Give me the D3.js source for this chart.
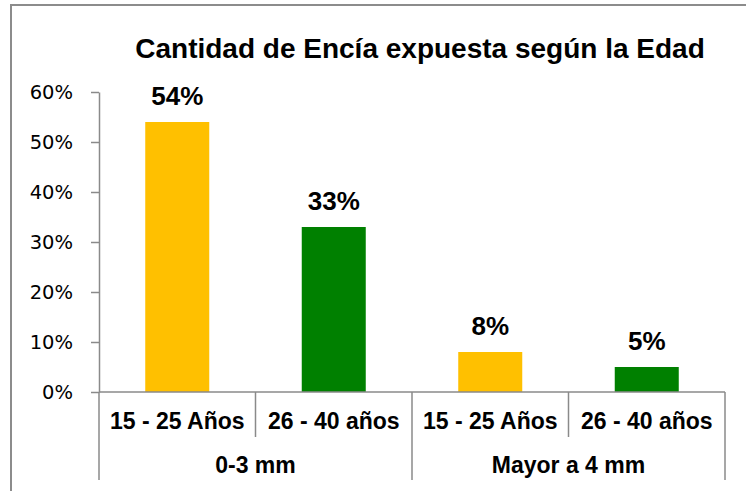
<!DOCTYPE html>
<html>
<head>
<meta charset="utf-8">
<script src="https://cdn.jsdelivr.net/npm/d3@7"></script>
<style>
  html, body { margin: 0; padding: 0; background: #fff; }
  svg { display: block; }
</style>
</head>
<body>
<svg id="chart" width="746" height="491"></svg>
<script>
// ---- data ----
const title = "Cantidad de Encía expuesta según la Edad";
const groups = ["0-3 mm", "Mayor a 4 mm"];
const ageLabels = ["15 - 25 Años", "26 - 40 años"];
const values15to25 = [0.54, 0.08];
const values26to40 = [0.33, 0.05];
const yTicks = [0, 0.1, 0.2, 0.3, 0.4, 0.5, 0.6];
const colors = ["#FFC000", "#008000"];

(function () {
// build flat rows
const rows = [];
groups.forEach((g, gi) => {
  rows.push({ key: g + "|" + ageLabels[0], group: g, age: ageLabels[0], value: values15to25[gi], color: colors[0] });
  rows.push({ key: g + "|" + ageLabels[1], group: g, age: ageLabels[1], value: values26to40[gi], color: colors[1] });
});

const svg = d3.select("#chart");
const mLeft = 99, mRight = 725, mTop = 92, mBottom = 392;
const axisColor = "#8a8a8a";

// outer chart border
svg.append("rect")
  .attr("x", 11).attr("y", 5)
  .attr("width", 900).attr("height", 700)
  .attr("fill", "#fff")
  .attr("stroke", "#8c8c8c").attr("stroke-width", 2);

// title
svg.append("text")
  .attr("x", 420).attr("y", 58)
  .attr("text-anchor", "middle")
  .attr("font-family", "Liberation Sans, Arial, sans-serif")
  .attr("font-weight", "bold")
  .attr("font-size", 28)
  .attr("fill", "#000")
  .text(title);

// scales
const x = d3.scaleBand()
  .domain(rows.map(d => d.key))
  .range([mLeft, mRight])
  .paddingInner(0.591)
  .paddingOuter(0.2955);
const step = x.step();
const y = d3.scaleLinear().domain([0, 0.6]).range([mBottom, mTop]);

// y axis
const yAxis = d3.axisLeft(y)
  .tickValues(yTicks)
  .tickFormat(d3.format(".0%"))
  .tickSize(8)
  .tickSizeOuter(0)
  .tickPadding(18);
const gy = svg.append("g").attr("transform", `translate(${mLeft},0)`).call(yAxis);
gy.select(".domain").attr("stroke", axisColor).attr("stroke-width", 1.5);
gy.selectAll(".tick line").attr("stroke", axisColor).attr("stroke-width", 1.5);
gy.selectAll(".tick text")
  .attr("font-family", "DejaVu Sans, Verdana, sans-serif")
  .attr("font-size", 19.5)
  .attr("fill", "#000");

// bars
svg.append("g").selectAll("rect")
  .data(rows)
  .join("rect")
  .attr("x", d => x(d.key))
  .attr("y", d => y(d.value))
  .attr("width", x.bandwidth())
  .attr("height", d => y(0) - y(d.value))
  .attr("fill", d => d.color);

// data labels
svg.append("g").selectAll("text")
  .data(rows)
  .join("text")
  .attr("x", d => x(d.key) + x.bandwidth() / 2)
  .attr("y", d => y(d.value) - 17)
  .attr("text-anchor", "middle")
  .attr("font-family", "Liberation Sans, Arial, sans-serif")
  .attr("font-weight", "bold")
  .attr("font-size", 26)
  .attr("fill", "#000")
  .text(d => d3.format(".0%")(d.value));

// x axis line
const axisG = svg.append("g").attr("stroke", axisColor).attr("stroke-width", 1.5);
axisG.append("line").attr("x1", mLeft).attr("x2", mRight).attr("y1", mBottom).attr("y2", mBottom);
// y axis extension downward
axisG.append("line").attr("x1", mLeft).attr("x2", mLeft).attr("y1", mBottom).attr("y2", 480);

// inner separators (between age categories within a group)
rows.forEach((d, i) => {
  const bx = mLeft + step * i;
  if (i % 2 === 1) {
    axisG.append("line").attr("x1", bx).attr("x2", bx).attr("y1", mBottom).attr("y2", 437);
  }
});
// group separators
groups.forEach((g, gi) => {
  const gx = mLeft + step * 2 * (gi + 1);
  axisG.append("line").attr("x1", gx).attr("x2", gx).attr("y1", mBottom).attr("y2", 480);
});

// inner category labels
svg.append("g").selectAll("text")
  .data(rows)
  .join("text")
  .attr("x", d => x(d.key) + x.bandwidth() / 2)
  .attr("y", 429)
  .attr("text-anchor", "middle")
  .attr("font-family", "Liberation Sans, Arial, sans-serif")
  .attr("font-weight", "bold")
  .attr("font-size", 23)
  .attr("fill", "#000")
  .text(d => d.age);

// group labels
svg.append("g").selectAll("text")
  .data(groups)
  .join("text")
  .attr("x", (g, gi) => mLeft + step * (2 * gi + 1))
  .attr("y", 473)
  .attr("text-anchor", "middle")
  .attr("font-family", "Liberation Sans, Arial, sans-serif")
  .attr("font-weight", "bold")
  .attr("font-size", 23)
  .attr("fill", "#000")
  .text(d => d);
})();
</script>
</body>
</html>
